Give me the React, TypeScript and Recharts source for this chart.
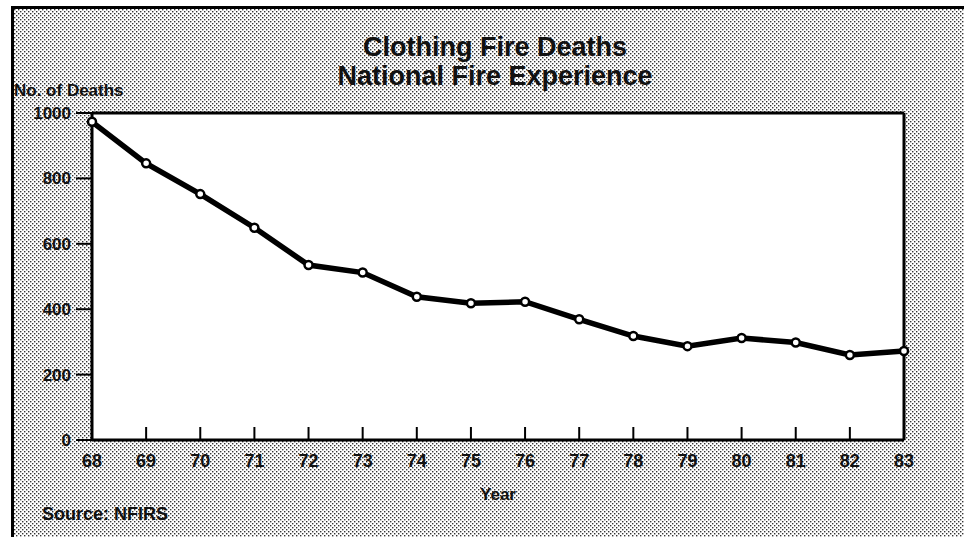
import React from 'react';
import { LineChart, Line, XAxis, YAxis, CartesianGrid, ReferenceLine, Label } from 'recharts';

const years = [68, 69, 70, 71, 72, 73, 74, 75, 76, 77, 78, 79, 80, 81, 82, 83];
const deaths = [973, 846, 752, 649, 535, 512, 438, 418, 423, 369, 318, 287, 312, 298, 260, 272];
const yTicks = [0, 200, 400, 600, 800, 1000];

const data = years.map((y, i) => ({ year: y, deaths: deaths[i] }));

const font = 'Arial, "Liberation Sans", Helvetica, sans-serif';

// halftone-ish dot screen like the scanned original
const dots =
    "url(\"data:image/svg+xml;utf8,<svg xmlns='http://www.w3.org/2000/svg' width='4' height='4'>" +
    "<rect width='1.4' height='1.4' fill='%23333'/><rect x='2' y='2' width='1.4' height='1.4' fill='%23333'/></svg>\")";

const XTick = (props: any) => {
    const { x, y, payload } = props;
    return (
        <g>
            <line x1={x} y1={y} x2={x} y2={y - 13} stroke="#000" strokeWidth={2} />
            <text x={x} y={y + 27} textAnchor="middle" fontSize={18} fontWeight="bold" fontFamily={font} fill="#111">
                {payload.value}
            </text>
        </g>
    );
};

const App = () => {
    return (
        <div style={{ position: 'fixed', left: 0, top: 0, width: 964, height: 537, background: '#fff', overflow: 'hidden' }}>
            <div
                style={{
                    position: 'absolute',
                    left: 11,
                    top: 6,
                    width: 960,
                    height: 540,
                    borderLeft: '3px solid #000',
                    borderTop: '3px solid #000',
                    backgroundColor: '#fff',
                    backgroundImage: dots,
                    backgroundSize: '4px 4px',
                }}
            />
            <div style={{ position: 'absolute', left: 0, top: 33, width: 990, textAlign: 'center', fontFamily: font, fontWeight: 'bold', fontSize: 27, lineHeight: '29px', color: '#111' }}>
                Clothing Fire Deaths
                <br />
                National Fire Experience
            </div>
            <div style={{ position: 'absolute', left: 14, top: 81, fontFamily: font, fontWeight: 'bold', fontSize: 17, color: '#111' }}>
                No. of Deaths
            </div>
            <div style={{ position: 'absolute', left: 42, top: 504, fontFamily: font, fontWeight: 'bold', fontSize: 18, color: '#111' }}>
                Source: NFIRS
            </div>
            <div style={{ position: 'absolute', left: 0, top: 0 }}>
                <LineChart width={964} height={537} data={data} margin={{ top: 113, right: 60, bottom: 57, left: 0 }}>
                    <CartesianGrid fill="#fff" stroke="none" horizontal={false} vertical={false} />
                    <XAxis
                        dataKey="year"
                        type="number"
                        domain={[68, 83]}
                        ticks={years}
                        interval={0}
                        tickLine={false}
                        tickSize={0}
                        tickMargin={0}
                        height={40}
                        axisLine={{ stroke: '#000', strokeWidth: 3 }}
                        tick={<XTick />}
                    >
                        <Label value="Year" position="insideBottom" offset={-20} fontSize={17} fontWeight="bold" fontFamily={font} fill="#111" />
                    </XAxis>
                    <YAxis
                        domain={[0, 1000]}
                        ticks={yTicks}
                        width={92}
                        interval={0}
                        tickSize={16}
                        tickMargin={5}
                        axisLine={{ stroke: '#000', strokeWidth: 3 }}
                        tickLine={{ stroke: '#000', strokeWidth: 2 }}
                        tick={{ fontSize: 17, fontWeight: 'bold', fontFamily: font, fill: '#111' }}
                    />
                    <ReferenceLine y={1000} stroke="#000" strokeWidth={3} />
                    <ReferenceLine x={83} stroke="#000" strokeWidth={3} />
                    <Line
                        type="linear"
                        dataKey="deaths"
                        stroke="#000"
                        strokeWidth={5.5}
                        dot={{ r: 4, fill: '#fff', stroke: '#000', strokeWidth: 2.5 }}
                        isAnimationActive={false}
                    />
                </LineChart>
            </div>
        </div>
    );
};

export default App;
